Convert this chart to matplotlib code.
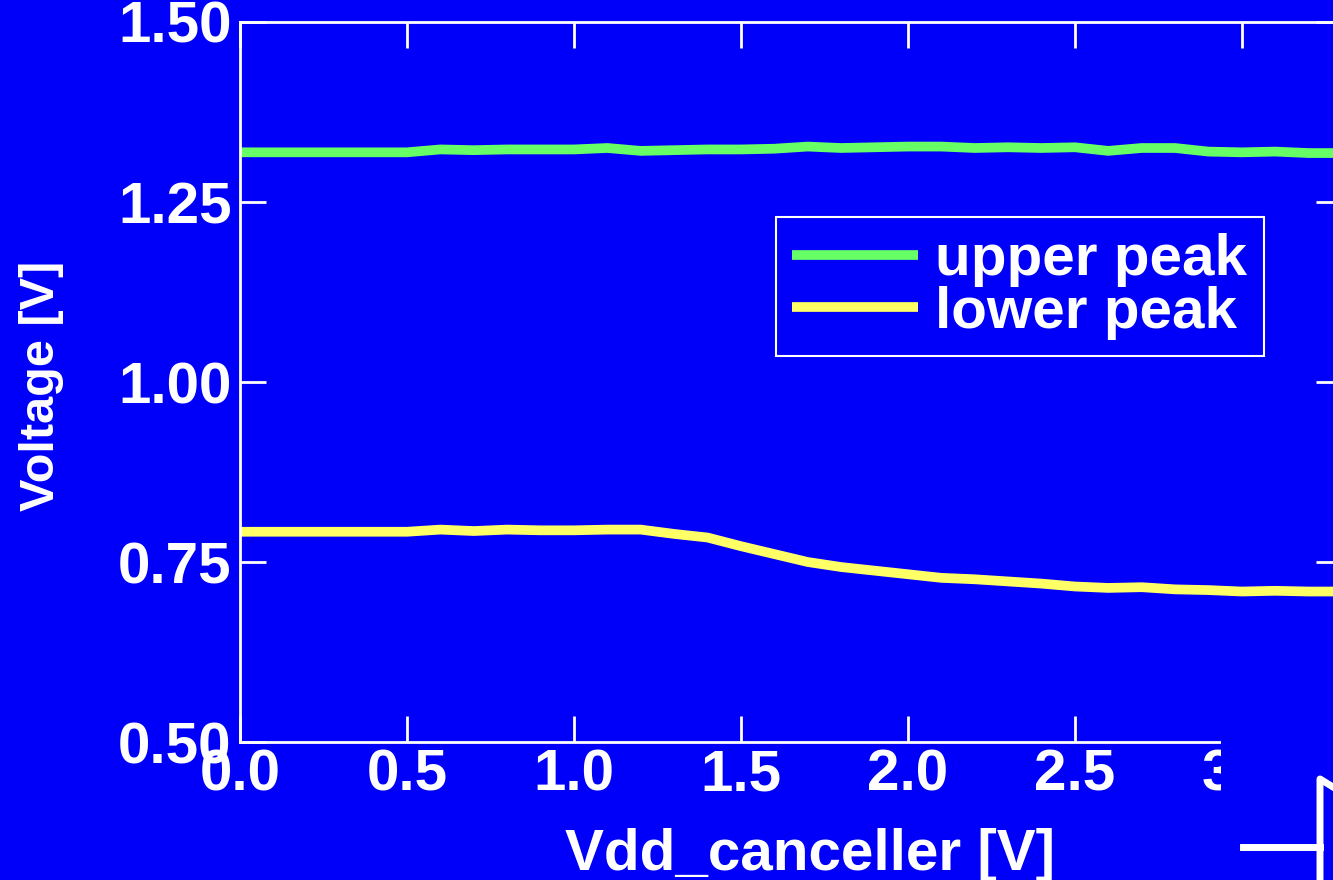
import numpy as np
import matplotlib
matplotlib.use("Agg")
import matplotlib.pyplot as plt
from matplotlib.patches import Rectangle
from matplotlib.lines import Line2D

plt.rcParams['font.family'] = ['Liberation Sans', 'DejaVu Sans']
plt.rcParams['font.weight'] = 'bold'

# Vdd_canceller sweep [V]
vdd = [0.0, 0.1, 0.2, 0.3, 0.4, 0.5, 0.6, 0.7, 0.8, 0.9, 1.0,
       1.1, 1.2, 1.3, 1.4, 1.5, 1.6, 1.7, 1.8, 1.9, 2.0, 2.1,
       2.2, 2.3, 2.4, 2.5, 2.6, 2.7, 2.8, 2.9, 3.0, 3.1, 3.2, 3.3]
upper_peak = [1.319, 1.319, 1.319, 1.319, 1.319, 1.319, 1.323, 1.322, 1.323, 1.323, 1.323,
              1.325, 1.321, 1.322, 1.323, 1.323, 1.324, 1.327, 1.325, 1.326, 1.327, 1.327,
              1.325, 1.326, 1.325, 1.326, 1.321, 1.325, 1.325, 1.320, 1.319, 1.320, 1.318, 1.318]
lower_peak = [0.792, 0.792, 0.792, 0.792, 0.792, 0.792, 0.795, 0.793, 0.795, 0.794, 0.794,
              0.795, 0.795, 0.789, 0.784, 0.772, 0.761, 0.750, 0.743, 0.738, 0.733, 0.728,
              0.726, 0.723, 0.720, 0.716, 0.714, 0.715, 0.712, 0.711, 0.709, 0.710, 0.709, 0.709]
xticks = [0.0, 0.5, 1.0, 1.5, 2.0, 2.5, 3.0]
yticks = [0.50, 0.75, 1.00, 1.25, 1.50]

bg = '#0000fa'
W, H = 1333, 880
fig = plt.figure(figsize=(W / 100, H / 100), dpi=100, facecolor=bg)
ax = fig.add_axes([240 / W, 138 / H, 1102 / W, 720 / H], facecolor=bg)

ax.plot(vdd, upper_peak, color='#66ff66', lw=7, label='upper peak', solid_capstyle='butt')
ax.plot(vdd, lower_peak, color='#ffff66', lw=7, label='lower peak', solid_capstyle='butt')

ax.set_xlim(0, 3.3)
ax.set_ylim(0.5, 1.5)
ax.set_xticks(xticks)
ax.set_yticks(yticks)
ax.set_xticklabels(['%.1f' % t for t in xticks])
ax.set_yticklabels(['%.2f' % t for t in yticks])

for s in ax.spines.values():
    s.set_color('white')
    s.set_linewidth(2)
ax.tick_params(which='both', direction='in', length=19, width=2, color='white',
               top=True, right=True, labelcolor='white', labelsize=42)
ax.tick_params(axis='x', pad=5)
ax.tick_params(axis='y', pad=6)

ax.set_xlabel('Vdd_canceller [V]', color='white', fontsize=42, fontweight='bold')
ax.set_ylabel('Voltage [V]', color='white', fontsize=35, fontweight='bold')
ax.xaxis.set_label_coords(0.517, -0.119)
ax.yaxis.set_label_coords(-0.16, 0.494)

leg = ax.legend(loc='upper left', bbox_to_anchor=(776 / W, 1 - 217 / H),
                bbox_transform=fig.transFigure, fontsize=42, frameon=True,
                fancybox=False, handlelength=2.15, handletextpad=0.3,
                labelspacing=-0.03, borderpad=0.28, borderaxespad=0)
leg.get_frame().set_facecolor(bg)
leg.get_frame().set_edgecolor('white')
leg.get_frame().set_linewidth(1.5)
leg.get_frame().set_alpha(1)
for t in leg.get_texts():
    t.set_color('white')
    t.set_fontweight('bold')

# slide overlay in the lower right corner
fig.add_artist(Rectangle((1221 / W, 0), 1 - 1221 / W, 168 / H, transform=fig.transFigure,
                         facecolor=bg, edgecolor='none', zorder=5))
fig.add_artist(Line2D([1243 / W, 1320 / W], [1 - 847 / H, 1 - 847 / H], transform=fig.transFigure,
                      color='white', lw=5, zorder=6))
fig.add_artist(Line2D([1320 / W, 1320 / W, 1333 / W], [0, 1 - 779 / H, 1 - 787 / H],
                      transform=fig.transFigure, color='white', lw=5, zorder=6))

fig.savefig('out.png', dpi=100, facecolor=bg)
